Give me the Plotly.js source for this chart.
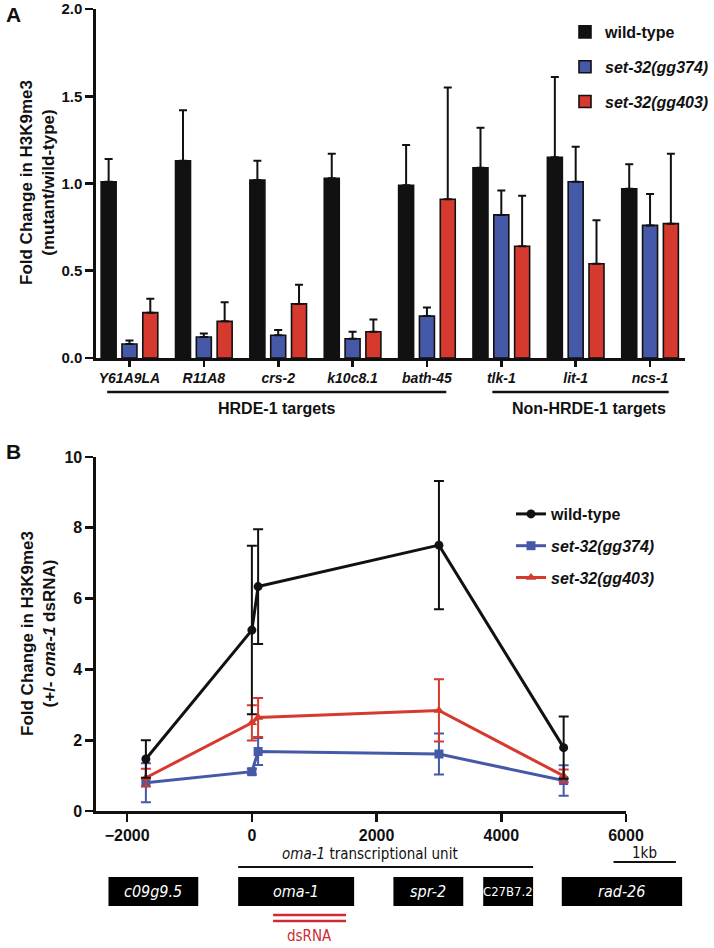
<!DOCTYPE html>
<html>
<head>
<meta charset="utf-8">
<script src="https://cdn.plot.ly/plotly-3.0.1.min.js"></script>
<style>
  html, body { margin: 0; padding: 0; background: #fff; }
  #chart { width: 714px; height: 948px; }
</style>
</head>
<body>
<div id="chart"></div>
<script>
// Panel A - fold change in H3K9me3, mutant / wild-type
const loci      = ['Y61A9LA', 'R11A8', 'crs-2', 'k10c8.1', 'bath-45', 'tlk-1', 'lit-1', 'ncs-1'];
const wtFold    = [1.01, 1.13, 1.02, 1.03, 0.99, 1.09, 1.15, 0.97];
const wtErr     = [0.13, 0.29, 0.11, 0.14, 0.23, 0.23, 0.46, 0.14];
const gg374Fold = [0.08, 0.12, 0.13, 0.11, 0.24, 0.82, 1.01, 0.76];
const gg374Err  = [0.02, 0.02, 0.03, 0.04, 0.05, 0.14, 0.20, 0.18];
const gg403Fold = [0.26, 0.21, 0.31, 0.15, 0.91, 0.64, 0.54, 0.77];
const gg403Err  = [0.08, 0.11, 0.11, 0.07, 0.64, 0.29, 0.25, 0.40];

// locus groups drawn under the axis (span in category units)
const groupNames = ['HRDE-1 targets', 'Non-HRDE-1 targets'];
const groupFrom  = [-0.3, 4.88];
const groupTo    = [4.26, 7.25];

// Panel B - fold change (+/- oma-1 dsRNA) along the locus
const positions = [-1700, 0, 100, 3000, 5000];
const wtB       = [1.47, 5.11, 6.34, 7.51, 1.79];
const wtBErr    = [0.53, 2.38, 1.62, 1.81, 0.88];
const gg374B    = [0.80, 1.11, 1.68, 1.61, 0.86];
const gg374BErr = [0.55, 0.08, 0.38, 0.58, 0.43];
const gg403B    = [0.94, 2.49, 2.64, 2.84, 0.99];
const gg403BErr = [0.25, 0.50, 0.55, 0.88, 0.18];

// gene map below panel B (bp)
const genes      = ['c09g9.5', 'oma-1', 'spr-2', 'C27B7.2', 'rad-26'];
const geneStart  = [-2300, -220, 2270, 3710, 4970];
const geneEnd    = [-860, 1640, 3390, 4510, 6900];
const geneItalic = [true, true, true, false, true];
const transcriptUnit = [-220, 4510];
const dsRNA     = [340, 1510];
const scaleBar  = [5800, 6800];

const W = 714, H = 948;
const fx = px => px / W;
const fy = px => 1 - px / H;

const INK   = '#111111';
const BLUE  = '#4659a9';
const RED   = '#d6392e';
const FONT  = 'Arial, "Liberation Sans", Helvetica, sans-serif';
const NARROW = '"Liberation Sans Narrow", "Arial Narrow", "DejaVu Sans Condensed", sans-serif';

const bpPerPx = 8500 / (626 - 96);

function plusOnly(arr) {
  return { type: 'data', symmetric: false, array: arr, arrayminus: arr.map(() => 0),
           color: INK, thickness: 2, width: 4 };
}
function bothWays(arr, color) {
  return { type: 'data', array: arr, color: color, thickness: 2, width: 5 };
}

const barLine = { color: INK, width: 1.6 };

const traces = [
  { type: 'bar', x: loci, y: wtFold, name: 'wild-type', legendgroup: 'a',
    marker: { color: INK, line: barLine }, error_y: plusOnly(wtErr) },
  { type: 'bar', x: loci, y: gg374Fold, name: '<i>set-32(gg374)</i>', legendgroup: 'b',
    marker: { color: BLUE, line: barLine }, error_y: plusOnly(gg374Err) },
  { type: 'bar', x: loci, y: gg403Fold, name: '<i>set-32(gg403)</i>', legendgroup: 'c',
    marker: { color: RED, line: barLine }, error_y: plusOnly(gg403Err) },

  { type: 'scatter', mode: 'lines+markers', x: positions, y: gg374B, xaxis: 'x2', yaxis: 'y2',
    name: '<i>set-32(gg374)</i>', legend: 'legend2', legendgroup: 'e', legendrank: 2,
    line: { color: BLUE, width: 3 }, marker: { symbol: 'square', size: 9, color: BLUE },
    error_y: bothWays(gg374BErr, BLUE) },
  { type: 'scatter', mode: 'lines+markers', x: positions, y: gg403B, xaxis: 'x2', yaxis: 'y2',
    name: '<i>set-32(gg403)</i>', legend: 'legend2', legendgroup: 'f', legendrank: 3,
    line: { color: RED, width: 3 }, marker: { symbol: 'triangle-up', size: 9, color: RED },
    error_y: bothWays(gg403BErr, RED) },
  { type: 'scatter', mode: 'lines+markers', x: positions, y: wtB, xaxis: 'x2', yaxis: 'y2',
    name: 'wild-type', legend: 'legend2', legendgroup: 'd', legendrank: 1,
    line: { color: INK, width: 3 }, marker: { symbol: 'circle', size: 9, color: INK },
    error_y: bothWays(wtBErr, INK) }
];

const axisStyle = {
  showline: true, linewidth: 2.6, linecolor: INK,
  ticks: 'outside', tickwidth: 2.6, tickcolor: INK,
  showgrid: false, zeroline: false, fixedrange: true
};

const shapes = [];
const annotations = [];

// group brackets under panel A
groupNames.forEach((g, i) => {
  shapes.push({ type: 'line', xref: 'x', yref: 'paper', x0: groupFrom[i], x1: groupTo[i],
                y0: fy(392), y1: fy(392), line: { color: INK, width: 2.6 } });
  annotations.push({ xref: 'x', yref: 'paper', x: (groupFrom[i] + groupTo[i]) / 2 + (i ? 0.12 : 0),
                     y: fy(408), text: g, showarrow: false, xanchor: 'center', yanchor: 'middle',
                     font: { size: 16, weight: 'bold', color: INK } });
});

// gene map
genes.forEach((g, i) => {
  shapes.push({ type: 'rect', xref: 'x3', yref: 'y3', x0: geneStart[i], x1: geneEnd[i],
                y0: 37, y1: 66, fillcolor: '#000', line: { width: 0 } });
  annotations.push({ xref: 'x3', yref: 'y3', x: (geneStart[i] + geneEnd[i]) / 2, y: 51.5,
                     text: g, showarrow: false,
                     font: { family: NARROW, size: geneItalic[i] ? 16 : 13, color: '#fff',
                             style: geneItalic[i] ? 'italic' : 'normal' } });
});
shapes.push({ type: 'line', xref: 'x3', yref: 'y3', x0: transcriptUnit[0], x1: transcriptUnit[1],
              y0: 27, y1: 27, line: { color: INK, width: 2.2 } });
annotations.push({ xref: 'x3', yref: 'y3', x: (transcriptUnit[0] + transcriptUnit[1]) / 2 - 250, y: 14,
                   text: '<i>oma-1</i> transcriptional unit', showarrow: false,
                   font: { family: NARROW, size: 15, color: INK } });
shapes.push({ type: 'line', xref: 'x3', yref: 'y3', x0: scaleBar[0], x1: scaleBar[1],
              y0: 22, y1: 22, line: { color: INK, width: 2 } });
annotations.push({ xref: 'x3', yref: 'y3', x: (scaleBar[0] + scaleBar[1]) / 2, y: 13,
                   text: '1kb', showarrow: false, font: { family: NARROW, size: 15, color: INK } });
[75, 81].forEach(yy => shapes.push({ type: 'line', xref: 'x3', yref: 'y3', x0: dsRNA[0], x1: dsRNA[1],
                                     y0: yy, y1: yy, line: { color: '#cc2d35', width: 2.5 } }));
annotations.push({ xref: 'x3', yref: 'y3', x: (dsRNA[0] + dsRNA[1]) / 2, y: 96,
                   text: 'dsRNA', showarrow: false, font: { family: NARROW, size: 15, color: '#cc2d35' } });

// panel letters and y titles
annotations.push(
  { xref: 'paper', yref: 'paper', x: fx(4), y: fy(14), xanchor: 'left', yanchor: 'middle',
    text: 'A', showarrow: false, font: { size: 21, weight: 'bold', color: INK } },
  { xref: 'paper', yref: 'paper', x: fx(4), y: fy(451), xanchor: 'left', yanchor: 'middle',
    text: 'B', showarrow: false, font: { size: 21, weight: 'bold', color: INK } },
  { xref: 'paper', yref: 'paper', x: fx(37), y: fy(183), textangle: -90,
    xanchor: 'center', yanchor: 'middle', showarrow: false,
    text: 'Fold Change in H3K9me3<br>(mutant/wild-type)',
    font: { size: 17, weight: 'bold', color: INK } },
  { xref: 'paper', yref: 'paper', x: fx(38), y: fy(634), textangle: -90,
    xanchor: 'center', yanchor: 'middle', showarrow: false,
    text: 'Fold Change in H3K9me3<br>(+/- <i>oma-1</i> dsRNA)',
    font: { size: 17, weight: 'bold', color: INK } }
);

const layout = {
  width: W, height: H,
  margin: { l: 0, r: 0, t: 0, b: 0 },
  paper_bgcolor: '#fff', plot_bgcolor: 'rgba(0,0,0,0)',
  font: { family: FONT, color: INK },
  barmode: 'group', bargap: 0.16, bargroupgap: 0.28,
  hovermode: false,
  xaxis: Object.assign({}, axisStyle, {
    domain: [fx(96), fx(685)], anchor: 'y', type: 'category', range: [-0.45, 7.47],
    ticklen: 6, tickfont: { size: 14, weight: 'bold', style: 'italic', color: INK }
  }),
  yaxis: Object.assign({}, axisStyle, {
    domain: [fy(358), fy(9)], anchor: 'x', range: [0, 2], dtick: 0.5, tickformat: '.1f',
    ticklen: 8, tickfont: { size: 15, weight: 'bold', color: INK }
  }),
  xaxis2: Object.assign({}, axisStyle, {
    domain: [fx(96), fx(626)], anchor: 'y2', range: [-2500, 6000],
    tickvals: [-2000, 0, 2000, 4000, 6000], ticklen: 8,
    tickfont: { size: 16, weight: 'bold', color: INK }
  }),
  yaxis2: Object.assign({}, axisStyle, {
    domain: [fy(811), fy(457)], anchor: 'x2', range: [0, 10], dtick: 2, ticklen: 8,
    tickfont: { size: 16, weight: 'bold', color: INK }
  }),
  xaxis3: { domain: [fx(96), fx(690)], anchor: 'y3', range: [-2500, -2500 + bpPerPx * (690 - 96)],
            visible: false, fixedrange: true },
  yaxis3: { domain: [0, fy(840)], anchor: 'x3', range: [108, 0], visible: false, fixedrange: true },
  legend: { x: fx(565), y: fy(15), xanchor: 'left', yanchor: 'top', bgcolor: 'rgba(0,0,0,0)',
            font: { size: 16, weight: 'bold', color: INK }, tracegroupgap: 11, traceorder: 'grouped' },
  legend2: { x: fx(511), y: fy(497), xanchor: 'left', yanchor: 'top', bgcolor: 'rgba(0,0,0,0)',
             font: { size: 16, weight: 'bold', color: INK }, tracegroupgap: 8, traceorder: 'grouped' },
  shapes: shapes,
  annotations: annotations
};

Plotly.newPlot('chart', traces, layout, { staticPlot: true, displayModeBar: false });
</script>
</body>
</html>
